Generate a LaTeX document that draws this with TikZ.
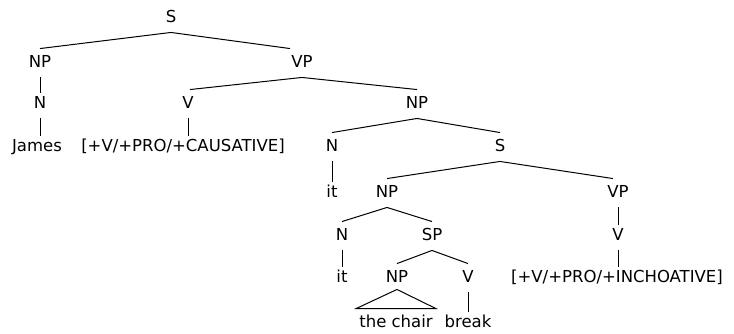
\documentclass[tikz,border=0pt]{standalone}
\usepackage{fontspec}
\setmainfont{DejaVu Sans}
\begin{document}
\begin{tikzpicture}[x=1pt,y=-1pt,
  lbl/.style={font=\fontsize{16.5}{18}\selectfont, inner xsep=1pt, inner ysep=0pt,
    text height=11.5pt, text depth=3pt, minimum height=28.5pt},
  edge/.style={draw=black, line width=1pt},
  vedge/.style={edge, shorten >=-3pt}]
\useasboundingbox (0,0) rectangle (734,333);
% nodes
\node[lbl] (S1) at (171,18) {S};
\node[lbl] (NP1) at (40,63) {NP};
\node[lbl] (VP1) at (302,63) {VP};
\node[lbl] (N1) at (40,104) {N};
\node[lbl] (V1) at (188,104) {V};
\node[lbl] (James) at (37,147) {James};
\node[lbl] (caus) at (183,147) {[+V/+PRO/+CAUSATIVE]};
\node[lbl] (NP2) at (417,104) {NP};
\node[lbl] (N2) at (332,147) {N};
\node[lbl] (S2) at (500,147) {S};
\node[lbl] (it1) at (332,193) {it};
\node[lbl] (NP3) at (387,193) {NP};
\node[lbl] (VP2) at (618,193) {VP};
\node[lbl] (N3) at (342,236) {N};
\node[lbl] (SP) at (432,236) {SP};
\node[lbl] (V2) at (618,236) {V};
\node[lbl] (it2) at (342,278) {it};
\node[lbl] (NP4) at (397,278) {NP};
\node[lbl] (V3) at (468,278) {V};
\node[lbl] (inch) at (617,278) {[+V/+PRO/+INCHOATIVE]};
\node[lbl, inner xsep=3pt] (chair) at (396,323) {the chair};
\node[lbl] (break) at (468,323) {break};
% edges
\draw[edge] (S1.south) -- (NP1.north);
\draw[edge] (S1.south) -- ([xshift=-12pt]VP1.north);
\draw[vedge] (NP1.south) -- (N1.north);
\draw[vedge] (N1.south) -- (N1.south |- James.north);
\draw[edge] (VP1.south) -- ([xshift=2pt]V1.north);
\draw[edge] (VP1.south) -- (NP2.north);
\draw[vedge] (V1.south) -- (V1.south |- caus.north);
\draw[edge] (NP2.south) -- (N2.north);
\draw[edge] (NP2.south) -- (S2.north);
\draw[vedge] (N2.south) -- (it1.north);
\draw[edge] (S2.south) -- (NP3.north);
\draw[edge] (S2.south) -- ([xshift=-5pt]VP2.north);
\draw[edge] (NP3.south) -- (N3.north);
\draw[edge] (NP3.south) -- (SP.north);
\draw[vedge] (VP2.south) -- (V2.north);
\draw[vedge] (N3.south) -- (it2.north);
\draw[edge] (SP.south) -- (NP4.north);
\draw[edge] (SP.south) -- (V3.north);
\draw[vedge] (V2.south) -- (V2.south |- inch.north);
\draw[edge] ([yshift=3pt]NP4.south) -- (chair.north west) -- (chair.north east) -- cycle;
\draw[vedge] (V3.south) -- (break.north);
\end{tikzpicture}
\end{document}
